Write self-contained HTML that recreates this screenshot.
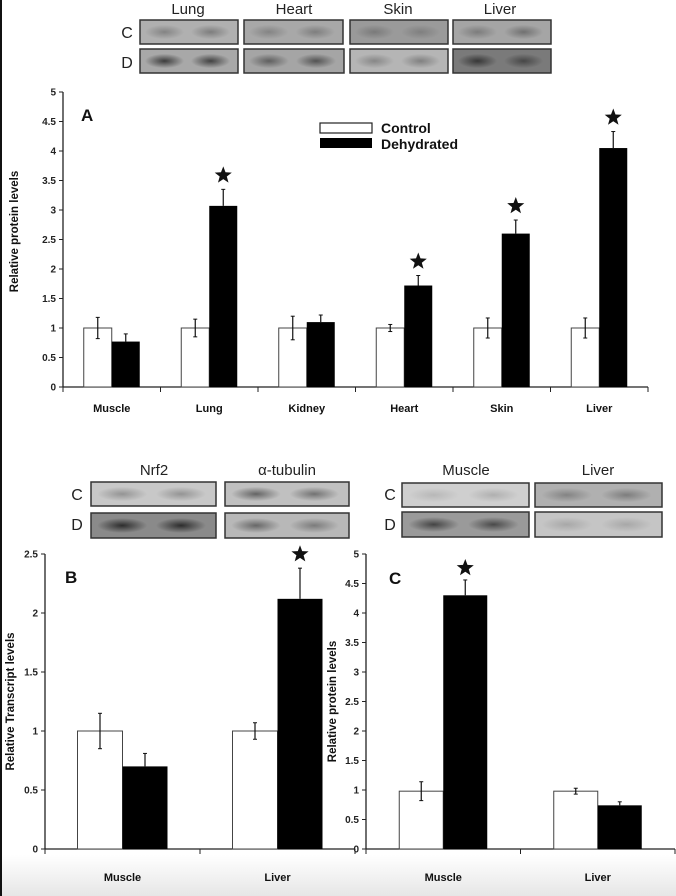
<!DOCTYPE html>
<html><head><meta charset="utf-8"><style>
html,body{margin:0;padding:0;background:#fff}
svg{display:block;font-family:"Liberation Sans",Arial,sans-serif}
</style></head><body>
<svg id="fig" width="676" height="896" viewBox="0 0 676 896">
<defs>
<linearGradient id="bg" x1="0" y1="0" x2="0" y2="1"><stop offset="0" stop-color="#ffffff"/><stop offset="1" stop-color="#e6e6e6"/></linearGradient>
<radialGradient id="band" cx="0.5" cy="0.5" r="0.5"><stop offset="0" stop-color="#222" stop-opacity="0.9"/><stop offset="1" stop-color="#222" stop-opacity="0"/></radialGradient>
</defs>
<rect x="0" y="855" width="676" height="41" fill="url(#bg)"/>
<rect x="0" y="0" width="2" height="896" fill="#111"/>
<g id="blots"></g>
<g id="chartA"></g>
<g id="chartB"></g>
<g id="chartC"></g>
</svg>
<script>
const NS='http://www.w3.org/2000/svg';
function el(p,t,a,txt){const e=document.createElementNS(NS,t);for(const k in a)e.setAttribute(k,a[k]);if(txt!==undefined)e.textContent=txt;p.appendChild(e);return e;}

// Chart A data
const catsA=['Muscle','Lung','Kidney','Heart','Skin','Liver'];
const ctrlA=[1,1,1,1,1,1];
const ctrlErrA=[0.18,0.15,0.2,0.06,0.17,0.17];
const dehA=[0.77,3.07,1.1,1.72,2.6,4.05];
const dehErrA=[0.13,0.28,0.12,0.17,0.23,0.28];
const sigA=[false,true,false,true,true,true];
const ticksA=['0','0.5','1','1.5','2','2.5','3','3.5','4','4.5','5'];
// Chart B data
const catsB=['Muscle','Liver'];
const ctrlB=[1,1];
const ctrlErrB=[0.15,0.07];
const dehB=[0.7,2.12];
const dehErrB=[0.11,0.26];
const sigB=[false,true];
const ticksB=['0','0.5','1','1.5','2','2.5'];
// Chart C data
const catsC=['Muscle','Liver'];
const ctrlC=[0.98,0.98];
const ctrlErrC=[0.16,0.05];
const dehC=[4.3,0.74];
const dehErrC=[0.26,0.06];
const sigC=[true,false];
const ticksC=['0','0.5','1','1.5','2','2.5','3','3.5','4','4.5','5'];

function star(g,cx,cy,r){
  let pts=[];for(let i=0;i<10;i++){const a=-Math.PI/2+i*Math.PI/5;const rr=i%2?r*0.42:r;pts.push((cx+rr*Math.cos(a)).toFixed(1)+','+(cy+rr*Math.sin(a)).toFixed(1));}
  const s=el(g,'polygon',{points:pts.join(' '),fill:'#111'});
  
  
}

function chart(gid,o){
  const g=document.getElementById(gid);
  const y=v=>o.y0-(v/o.max)*(o.y0-o.yTop);
  const catW=(o.x1-o.x0)/o.cats.length;
  const ax=el(g,'line',{x1:o.x0,y1:o.y0,x2:o.x0,y2:o.yTop,stroke:'#222','stroke-width':1.3});
  
  const xa=el(g,'line',{x1:o.x0,y1:o.y0,x2:o.x1,y2:o.y0,stroke:'#222','stroke-width':1.3});
  
  o.ticks.forEach(t=>{const v=parseFloat(t);const yy=y(v);
    el(g,'line',{x1:o.x0-4,y1:yy,x2:o.x0,y2:yy,stroke:'#222','stroke-width':1});
    const tl=el(g,'text',{x:o.x0-7,y:yy+3.5,'font-size':10,'font-weight':'bold','text-anchor':'end',fill:'#222'},t);
    
  });
  for(let i=0;i<=o.cats.length;i++){const xx=o.x0+i*catW;el(g,'line',{x1:xx,y1:o.y0,x2:xx,y2:o.y0+5,stroke:'#222','stroke-width':1});}
  o.cats.forEach((c,i)=>{
    const cx=o.x0+i*catW+catW/2;
    const xl=el(g,'text',{x:cx,y:o.labelY,'font-size':11,'font-weight':'bold','text-anchor':'middle',fill:'#111'},c);
    
    const bx=cx-o.bw;
    const cb=el(g,'rect',{x:bx,y:y(o.ctrl[i]),width:o.bw,height:o.y0-y(o.ctrl[i]),fill:'#fff',stroke:'#444','stroke-width':1});
    
    const ex=bx+o.bw/2;
    el(g,'line',{x1:ex,y1:y(o.ctrl[i]-o.ctrlErr[i]),x2:ex,y2:y(o.ctrl[i]+o.ctrlErr[i]),stroke:'#111','stroke-width':1.2});
    el(g,'line',{x1:ex-2,y1:y(o.ctrl[i]-o.ctrlErr[i]),x2:ex+2,y2:y(o.ctrl[i]-o.ctrlErr[i]),stroke:'#111','stroke-width':1});
    el(g,'line',{x1:ex-2,y1:y(o.ctrl[i]+o.ctrlErr[i]),x2:ex+2,y2:y(o.ctrl[i]+o.ctrlErr[i]),stroke:'#111','stroke-width':1});
    const db=el(g,'rect',{x:cx,y:y(o.deh[i]),width:o.bw,height:o.y0-y(o.deh[i]),fill:'#000'});
    
    const dx=cx+o.bw/2;
    el(g,'line',{x1:dx,y1:y(o.deh[i]),x2:dx,y2:y(o.deh[i]+o.dehErr[i]),stroke:'#111','stroke-width':1.2});
    el(g,'line',{x1:dx-2,y1:y(o.deh[i]+o.dehErr[i]),x2:dx+2,y2:y(o.deh[i]+o.dehErr[i]),stroke:'#111','stroke-width':1});
    if(o.sig[i])star(g,dx,y(o.deh[i]+o.dehErr[i])-o.starGap,9);
  });
  const ty=el(g,'text',{x:0,y:0,'font-size':11.5,'font-weight':'bold','text-anchor':'middle',fill:'#111',transform:`translate(${o.titleX},${(o.y0+o.yTop)/2+o.titleDy}) rotate(-90)`},o.title);
  
  const pl=el(g,'text',{x:o.panelX,y:o.panelY,'font-size':17,'font-weight':'bold',fill:'#111'},o.panel);
  
}

chart('chartA',{cats:catsA,ctrl:ctrlA,ctrlErr:ctrlErrA,deh:dehA,dehErr:dehErrA,sig:sigA,ticks:ticksA,max:5,
  x0:63,x1:648,y0:387,yTop:92,bw:28,labelY:412,starGap:14,title:'Relative protein levels',titleX:18,titleDy:-8,panel:'A',panelX:81,panelY:121});
chart('chartB',{cats:catsB,ctrl:ctrlB,ctrlErr:ctrlErrB,deh:dehB,dehErr:dehErrB,sig:sigB,ticks:ticksB,max:2.5,
  x0:45,x1:355,y0:849,yTop:554,bw:45,labelY:881,starGap:14,title:'Relative Transcript levels',titleX:14,titleDy:0,panel:'B',panelX:65,panelY:583});
chart('chartC',{cats:catsC,ctrl:ctrlC,ctrlErr:ctrlErrC,deh:dehC,dehErr:dehErrC,sig:sigC,ticks:ticksC,max:5,
  x0:366,x1:675,y0:849,yTop:554,bw:44,labelY:881,starGap:12,title:'Relative protein levels',titleX:336,titleDy:0,panel:'C',panelX:389,panelY:584});

const gA=document.getElementById('chartA');
const lc=el(gA,'rect',{x:320,y:123,width:52,height:10,fill:'#fff',stroke:'#222','stroke-width':1.2});

const ld=el(gA,'rect',{x:320,y:138,width:52,height:10,fill:'#000'});

const t1=el(gA,'text',{x:381,y:133,'font-size':14,'font-weight':'bold',fill:'#111'},'Control');

const t2=el(gA,'text',{x:381,y:149,'font-size':14,'font-weight':'bold',fill:'#111'},'Dehydrated');


const gb=document.getElementById('blots');
function blot(x,y,w,h,bg,b1,b2,name){
  const r=el(gb,'rect',{x:x,y:y,width:w,height:h,fill:bg,stroke:'#333','stroke-width':1.5});
  
  [[0.25,b1],[0.72,b2]].forEach(([f,op])=>{el(gb,'ellipse',{cx:x+w*f,cy:y+h/2,rx:w*0.2,ry:h*0.3,fill:'url(#band)',opacity:op});});
}
function lbl(x,y,t,s,name){const e=el(gb,'text',{x:x,y:y,'font-size':s,'text-anchor':'middle',fill:'#222'},t);}
lbl(188,14,'Lung',15,'blot-label-lung');lbl(294,14,'Heart',15,'blot-label-heart');lbl(398,14,'Skin',15,'blot-label-skin');lbl(500,14,'Liver',15,'blot-label-liver');
lbl(127,38,'C',16,'row-label-control');lbl(127,68,'D',16,'row-label-dehydrated');
blot(140,20,98,24,'#b0b0b0',0.35,0.4,'blot-lung-control');blot(244,20,99,24,'#a8a8a8',0.3,0.35,'blot-heart-control');
blot(350,20,98,24,'#9a9a9a',0.3,0.25,'blot-skin-control');blot(453,20,98,24,'#a5a5a5',0.35,0.45,'blot-liver-control');
blot(140,49,98,24,'#a8a8a8',0.9,0.85,'blot-lung-dehydrated');blot(244,49,100,24,'#a5a5a5',0.6,0.7,'blot-heart-dehydrated');
blot(350,49,98,24,'#b5b5b5',0.35,0.4,'blot-skin-dehydrated');blot(453,49,98,24,'#7a7a7a',0.85,0.65,'blot-liver-dehydrated');
lbl(154,475,'Nrf2',15,'blot-label-nrf2');lbl(287,475,'α-tubulin',15,'blot-label-tubulin');
lbl(466,475,'Muscle',15,'blot-label-muscle');lbl(598,475,'Liver',15,'blot-label-liver-c');
lbl(77,500,'C',16,'row-label-control-b');lbl(77,530,'D',16,'row-label-dehydrated-b');
lbl(390,500,'C',16,'row-label-control-c');lbl(390,530,'D',16,'row-label-dehydrated-c');
blot(91,482,125,24,'#c8c8c8',0.35,0.35,'blot-nrf2-control');blot(225,482,124,24,'#c0c0c0',0.65,0.55,'blot-tubulin-control');
blot(91,513,125,25,'#8a8a8a',1,1,'blot-nrf2-dehydrated');blot(225,513,124,25,'#b8b8b8',0.6,0.45,'blot-tubulin-dehydrated');
blot(402,483,127,24,'#cfcfcf',0.15,0.2,'blot-muscle-control');blot(535,483,127,24,'#b0b0b0',0.35,0.4,'blot-liver-control-c');
blot(402,512,127,25,'#9a9a9a',0.8,0.75,'blot-muscle-dehydrated');blot(535,512,127,25,'#c5c5c5',0.2,0.2,'blot-liver-dehydrated-c');
</script>
</body></html>
